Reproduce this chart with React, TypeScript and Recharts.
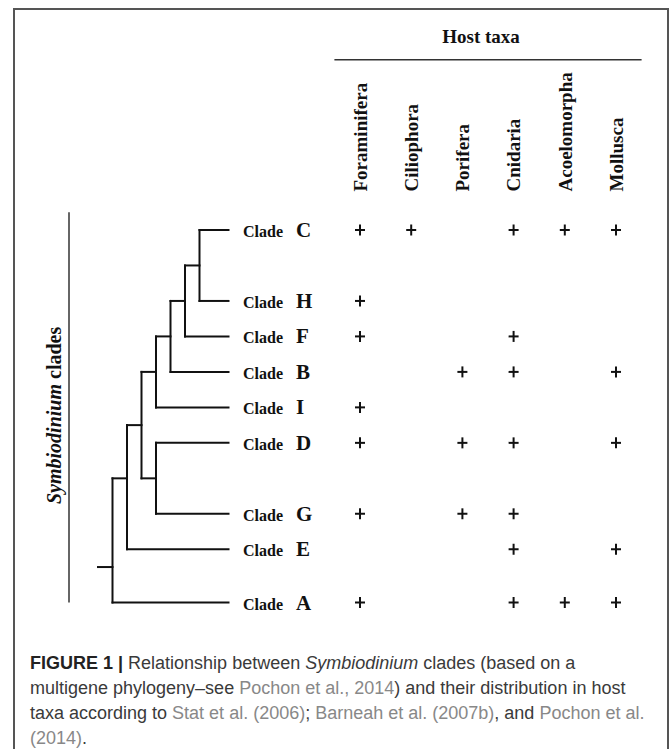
import React from "react";
import { ComposedChart, Scatter, XAxis, YAxis, ReferenceLine } from "recharts";

const HOSTS = [
  "Foraminifera",
  "Ciliophora",
  "Porifera",
  "Cnidaria",
  "Acoelomorpha",
  "Mollusca",
];

const CLADES = ["C", "H", "F", "B", "I", "D", "G", "E", "A"];
const CLADE_ROWS = [0, 2, 3, 4, 5, 6, 8, 9, 10.5];

// 1 = clade found in that host taxon (same order as HOSTS)
const PRESENCE = [
  [1, 1, 0, 1, 1, 1],
  [1, 0, 0, 0, 0, 0],
  [1, 0, 0, 1, 0, 0],
  [0, 0, 1, 1, 0, 1],
  [1, 0, 0, 0, 0, 0],
  [1, 0, 1, 1, 0, 1],
  [1, 0, 1, 1, 0, 0],
  [0, 0, 0, 1, 0, 1],
  [1, 0, 0, 1, 1, 1],
];

// internal nodes of the cladogram
const NODES = ["CH", "CHF", "CHFB", "CHFBI", "DG", "CHFBIDG", "CHFBIDGE", "ROOT"];
const NODE_DEPTH = [7, 6, 5, 4, 4, 3, 2, 1];
const NODE_ROWS = [1, 2, 3, 4, 7, 5.5, 7, 9.5];
const NODE_CHILDREN = [
  ["C", "H"],
  ["CH", "F"],
  ["CHF", "B"],
  ["CHFB", "I"],
  ["D", "G"],
  ["CHFBI", "DG"],
  ["CHFBIDG", "E"],
  ["CHFBIDGE", "A"],
];
const LEAF_DEPTH = 9;

// layout
const W = 669;
const H = 640;
const HEADER_H = 194.5;
const ROW_PX = 35.48;
const ROW_DOMAIN = [-1, 11];
const HOST_X0 = 360;
const HOST_STEP = 51.2;
const TREE_X0 = 98;
const TREE_STEP = 14.5;
const HEADER_ROW = -4.8;

const SERIF = "'Liberation Serif', 'Times New Roman', serif";
const REF = "#888";

const pos: Record<string, { depth: number; row: number }> = {};
CLADES.forEach((c, i) => (pos[c] = { depth: LEAF_DEPTH, row: CLADE_ROWS[i] }));
NODES.forEach((n, i) => (pos[n] = { depth: NODE_DEPTH[i], row: NODE_ROWS[i] }));

const segments: { x: number; y: number }[][] = [];
NODES.forEach((n, i) => {
  const d = NODE_DEPTH[i];
  const rows = NODE_CHILDREN[i].map((c) => pos[c].row);
  segments.push([
    { x: d, y: Math.min(...rows) },
    { x: d, y: Math.max(...rows) },
  ]);
  NODE_CHILDREN[i].forEach((c) => {
    segments.push([
      { x: d, y: pos[c].row },
      { x: pos[c].depth, y: pos[c].row },
    ]);
  });
});
// root stem
segments.push([
  { x: 0, y: pos.ROOT.row },
  { x: 1, y: pos.ROOT.row },
]);

const plusData: { host: number; row: number }[] = [];
PRESENCE.forEach((r, i) =>
  r.forEach((v, j) => {
    if (v) plusData.push({ host: j, row: CLADE_ROWS[i] });
  })
);

const leafData = CLADES.map((c, i) => ({
  clade: c,
  depth: LEAF_DEPTH,
  row: CLADE_ROWS[i],
}));

const HostTick = ({ x, y, payload }: any) => (
  <text
    x={x}
    y={y}
    dy="0.36em"
    transform={`rotate(-90 ${x} ${y})`}
    textAnchor="start"
    fontFamily={SERIF}
    fontWeight="bold"
    fontSize={19}
    fill="#111"
  >
    {HOSTS[payload.value]}
  </text>
);

const Plus = ({ cx, cy }: any) => (
  <g stroke="#111" strokeWidth={2}>
    <line x1={cx - 5} y1={cy} x2={cx + 5} y2={cy} />
    <line x1={cx} y1={cy - 5.5} x2={cx} y2={cy + 5.5} />
  </g>
);

const LeafLabel = ({ cx, cy, payload }: any) => (
  <text
    x={cx + 14.5}
    y={cy}
    dy={7}
    fontFamily={SERIF}
    fontWeight="bold"
    fontSize={16}
    fill="#111"
  >
    Clade
    <tspan x={cx + 67.5} fontSize={21}>
      {payload.clade}
    </tspan>
  </text>
);

export default function App() {
  return (
    <div
      style={{
        position: "relative",
        width: W,
        height: 749,
        overflow: "hidden",
        background: "#fff",
      }}
    >
      <style>{`body{overflow:hidden;margin:0 !important}`}</style>
      <div
        style={{
          position: "absolute",
          left: 13,
          top: 8,
          width: 656,
          height: 760,
          boxSizing: "border-box",
          border: "2px solid #555",
        }}
      />
      <div style={{ position: "absolute", left: 0, top: 0 }}>
        <ComposedChart
          width={W}
          height={H}
          margin={{
            top: 0,
            right: 0,
            bottom: H - HEADER_H - (ROW_DOMAIN[1] - ROW_DOMAIN[0]) * ROW_PX,
            left: 0,
          }}
        >
          <XAxis
            xAxisId="host"
            dataKey="host"
            type="number"
            orientation="top"
            height={HEADER_H}
            domain={[-HOST_X0 / HOST_STEP, (W - HOST_X0) / HOST_STEP]}
            allowDataOverflow
            ticks={HOSTS.map((_, i) => i)}
            interval={0}
            tick={<HostTick />}
            tickLine={false}
            axisLine={false}
            tickSize={0}
            tickMargin={3}
          />
          <XAxis
            xAxisId="tree"
            dataKey="depth"
            type="number"
            hide
            height={0}
            domain={[-TREE_X0 / TREE_STEP, (W - TREE_X0) / TREE_STEP]}
            allowDataOverflow
          />
          <YAxis
            dataKey="row"
            type="number"
            hide
            width={0}
            reversed
            domain={ROW_DOMAIN}
            allowDataOverflow
          />

          <ReferenceLine
            xAxisId="host"
            segment={[
              { x: -0.5, y: HEADER_ROW },
              { x: 5.5, y: HEADER_ROW },
            ]}
            stroke="#333"
            strokeWidth={1.5}
            ifOverflow="visible"
            label={({ viewBox }: any) => (
              <text
                x={viewBox.x + viewBox.width / 2 - 7}
                y={viewBox.y - 17}
                textAnchor="middle"
                fontFamily={SERIF}
                fontWeight="bold"
                fontSize={19}
                fill="#111"
              >
                Host taxa
              </text>
            )}
          />

          <ReferenceLine
            xAxisId="tree"
            segment={[
              { x: -2, y: -0.5 },
              { x: -2, y: 10.5 },
            ]}
            stroke="#333"
            strokeWidth={1.5}
            ifOverflow="visible"
            label={({ viewBox }: any) => {
              const lx = viewBox.x - 15;
              const ly = viewBox.y + viewBox.height / 2 + 8;
              return (
                <text
                  x={lx}
                  y={ly}
                  dy="0.36em"
                  transform={`rotate(-90 ${lx} ${ly})`}
                  textAnchor="middle"
                  fontFamily={SERIF}
                  fontWeight="bold"
                  fontSize={20}
                  fill="#111"
                >
                  <tspan fontStyle="italic">Symbiodinium</tspan> clades
                </text>
              );
            }}
          />

          {segments.map((s, i) => (
            <ReferenceLine
              key={`seg-${i}`}
              xAxisId="tree"
              segment={s}
              stroke="#111"
              strokeWidth={2}
              strokeLinecap="square"
              ifOverflow="visible"
            />
          ))}

          <Scatter
            xAxisId="tree"
            data={leafData}
            shape={<LeafLabel />}
            isAnimationActive={false}
          />
          <Scatter
            xAxisId="host"
            data={plusData}
            shape={<Plus />}
            isAnimationActive={false}
          />
        </ComposedChart>
      </div>
      <div
        style={{
          position: "absolute",
          left: 30,
          top: 651,
          fontFamily: "'Liberation Sans', Arial, sans-serif",
          fontSize: 18,
          lineHeight: "25px",
          color: "#3a3a3a",
          whiteSpace: "nowrap",
        }}
      >
        <b style={{ color: "#222" }}>FIGURE 1 |</b> Relationship between{" "}
        <i>Symbiodinium</i> clades (based on a
        <br />
        multigene phylogeny–see{" "}
        <span style={{ color: REF }}>Pochon et al., 2014</span>) and their
        distribution in host
        <br />
        taxa according to <span style={{ color: REF }}>Stat et al. (2006)</span>;{" "}
        <span style={{ color: REF }}>Barneah et al. (2007b)</span>, and{" "}
        <span style={{ color: REF }}>Pochon et al.</span>
        <br />
        <span style={{ color: REF }}>(2014)</span>.
      </div>
    </div>
  );
}
